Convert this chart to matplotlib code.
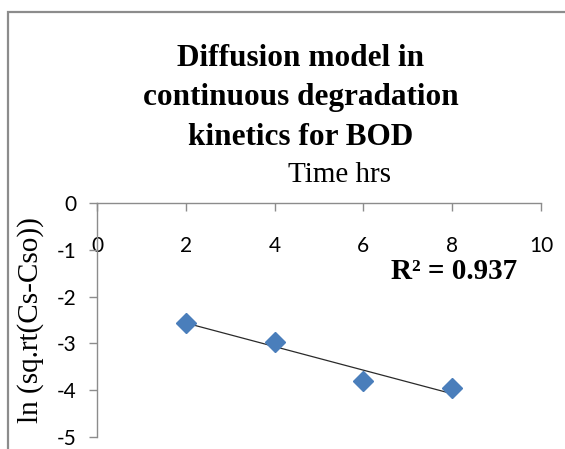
import numpy as np
import matplotlib
matplotlib.use("Agg")
import matplotlib.pyplot as plt
from matplotlib.patches import Rectangle

# Data
time_hrs = [2, 4, 6, 8]
ln_sqrt_values = [-2.56, -2.96, -3.80, -3.96]
x_ticks = [0, 2, 4, 6, 8, 10]
y_ticks = [0, -1, -2, -3, -4, -5]
title_text = "Diffusion model in\ncontinuous degradation\nkinetics for BOD"
x_label = "Time hrs"
y_label = "ln (sq.rt(Cs-Cso))"
r2_label = "R\u00b2 = 0.937"

W, H = 565, 449
fig = plt.figure(figsize=(W / 100, H / 100), dpi=100)
fig.patch.set_facecolor("white")

# outer chart border (left and top visible)
fig.add_artist(Rectangle((8 / W, -0.1), 1.2, 1 - 12 / H + 0.1, transform=fig.transFigure,
                         fill=False, edgecolor="#8c8c8c", linewidth=1.6))

ax = fig.add_axes([97 / W, 1 - 437 / H, (541 - 97) / W, (437 - 203) / H])
ax.set_xlim(0, 10)
ax.set_ylim(-5, 0)

axis_color = "#8c8c8c"
for s in ["right", "top"]:
    ax.spines[s].set_visible(False)
ax.spines["bottom"].set_position(("axes", 1.0))
ax.spines["bottom"].set_color(axis_color)
ax.spines["left"].set_color(axis_color)
ax.spines["bottom"].set_linewidth(1.0)
ax.spines["left"].set_linewidth(1.0)

tick_font = "Lato"
ax.set_xticks(x_ticks)
ax.set_yticks(y_ticks)
ax.set_xticklabels([str(v) for v in x_ticks], fontfamily=tick_font, fontsize=15)
ax.set_yticklabels([str(v) for v in y_ticks], fontfamily=tick_font, fontsize=15)
ax.tick_params(axis="x", direction="out", length=5.5, width=1.0, color=axis_color, pad=18)
ax.tick_params(axis="y", direction="out", length=5.5, width=1.0, color=axis_color, pad=9)

# scatter
ax.plot(time_hrs, ln_sqrt_values, linestyle="none", marker="D", markersize=10.5,
        color="#4a7ebb", markeredgecolor="#4a7ebb", zorder=3, clip_on=False)

# linear trendline
coef = np.polyfit(time_hrs, ln_sqrt_values, 1)
xs = np.array([min(time_hrs), max(time_hrs)])
ax.plot(xs, np.polyval(coef, xs), color="#2a2a2a", linewidth=0.9, zorder=2)

ax.text(8.05, -1.47, r2_label, fontfamily="Liberation Serif", fontweight="bold",
        fontsize=21, ha="center", va="center")

# title and axis labels
fig.text(301 / W, 1 - 98 / H, title_text, fontfamily="Liberation Serif", fontweight="bold",
         fontsize=22.5, ha="center", va="center", linespacing=1.47)
fig.text(339 / W, 1 - 175 / H, x_label, fontfamily="Liberation Serif", fontsize=21,
         ha="center", va="center")
fig.text(31 / W, 1 - 320 / H, y_label, fontfamily="Liberation Serif", fontsize=21,
         ha="center", va="center", rotation=90)

fig.savefig("out.png", dpi=100, facecolor="white")
